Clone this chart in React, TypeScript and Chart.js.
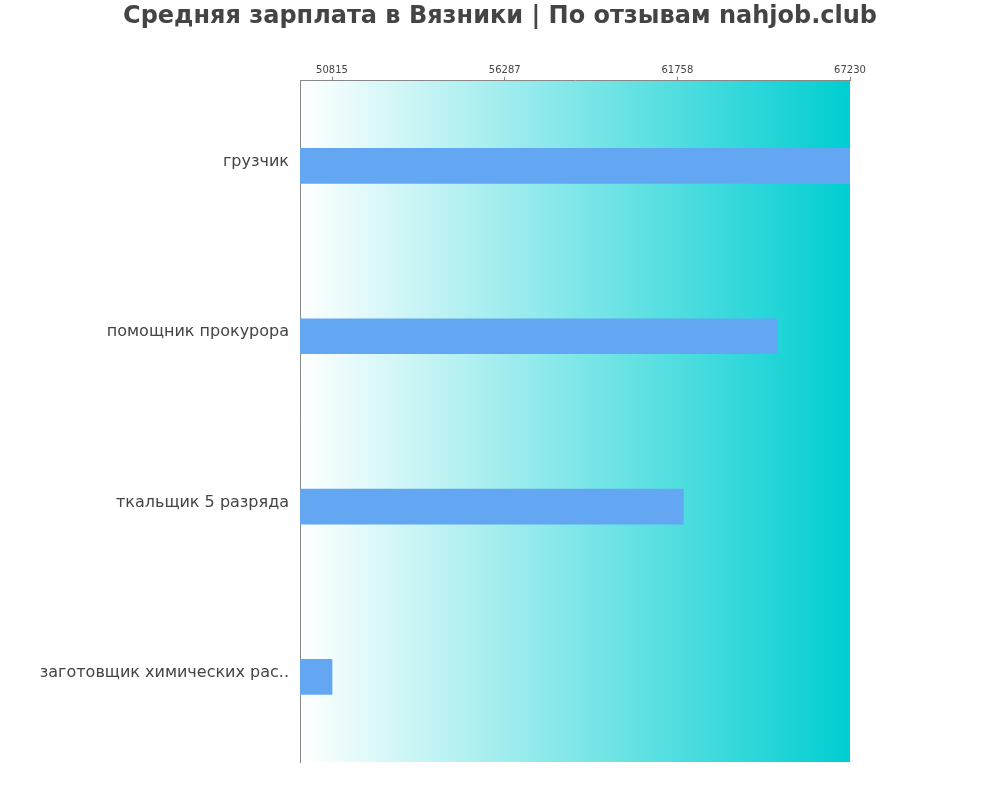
import React, { useEffect, useRef } from "react";
import Chart from "chart.js/auto";

const titleText = "Средняя зарплата в Вязники | По отзывам nahjob.club";
const categories = [
  "грузчик",
  "помощник прокурора",
  "ткальщик 5 разряда",
  "заготовщик химических рас..",
];
const salaries = [67230, 64930, 61950, 50815];
const tickValues = [50815, 56287, 61758, 67230];
const axisMin = 49800;
const axisMax = 67230;

const gradientBg = {
  id: "gradientBg",
  beforeDraw(chart: any) {
    const { ctx, chartArea } = chart;
    if (!chartArea) return;
    const g = ctx.createLinearGradient(chartArea.left, 0, chartArea.right, 0);
    g.addColorStop(0, "#ffffff");
    g.addColorStop(1, "#00ced1");
    ctx.save();
    ctx.fillStyle = g;
    ctx.fillRect(chartArea.left, chartArea.top, chartArea.right - chartArea.left, chartArea.bottom - chartArea.top);
    ctx.restore();
  },
};

export default function App() {
  const canvasEl = useRef<HTMLCanvasElement>(null);

  useEffect(() => {
    if (!canvasEl.current) return;
    const ctx = canvasEl.current.getContext("2d");
    if (!ctx) return;

    const chart = new Chart(ctx, {
      type: "bar",
      data: {
        labels: categories,
        datasets: [
          {
            data: salaries,
            backgroundColor: "#63a7f2",
            barThickness: 35,
          },
        ],
      },
      options: {
        indexAxis: "y",
        responsive: false,
        animation: false,
        layout: { padding: { top: 0, right: 0, bottom: 38, left: 0 } },
        plugins: {
          legend: { display: false },
          tooltip: { enabled: false },
          title: {
            display: true,
            text: titleText,
            color: "#444444",
            font: { family: "DejaVu Sans", size: 24, weight: "bold" },
            padding: { top: 2, bottom: 10 },
          },
        },
        scales: {
          x: {
            position: "top",
            min: axisMin,
            max: axisMax,
            afterBuildTicks: (s: any) => {
              s.ticks = tickValues.map((v) => ({ value: v }));
            },
            afterFit: (s: any) => {
              s.height = 40;
            },
            grid: { drawOnChartArea: false, drawTicks: true, tickLength: 4, color: "#888888" },
            border: { display: true, color: "#888888" },
            ticks: {
              color: "#444444",
              font: { family: "DejaVu Sans", size: 10 },
              padding: 0,
              maxRotation: 0,
              callback: (v: any) => String(v),
            },
          },
          y: {
            afterFit: (s: any) => {
              s.width = 300;
            },
            grid: { drawOnChartArea: false, drawTicks: false },
            border: { display: true, color: "#888888" },
            ticks: {
              color: "#444444",
              font: { family: "DejaVu Sans", size: 16 },
              padding: 11,
              labelOffset: -4,
            },
          },
          yRight: {
            position: "right",
            display: true,
            afterFit: (s: any) => {
              s.width = 150;
            },
            grid: { display: false },
            border: { display: false },
            ticks: { display: false },
          },
        },
      },
      plugins: [gradientBg],
    });

    return () => {
      chart.destroy();
    };
  }, []);

  return (
    <div style={{ position: "absolute", left: 0, top: 0 }}>
      <canvas ref={canvasEl} width={1000} height={800} />
    </div>
  );
}
